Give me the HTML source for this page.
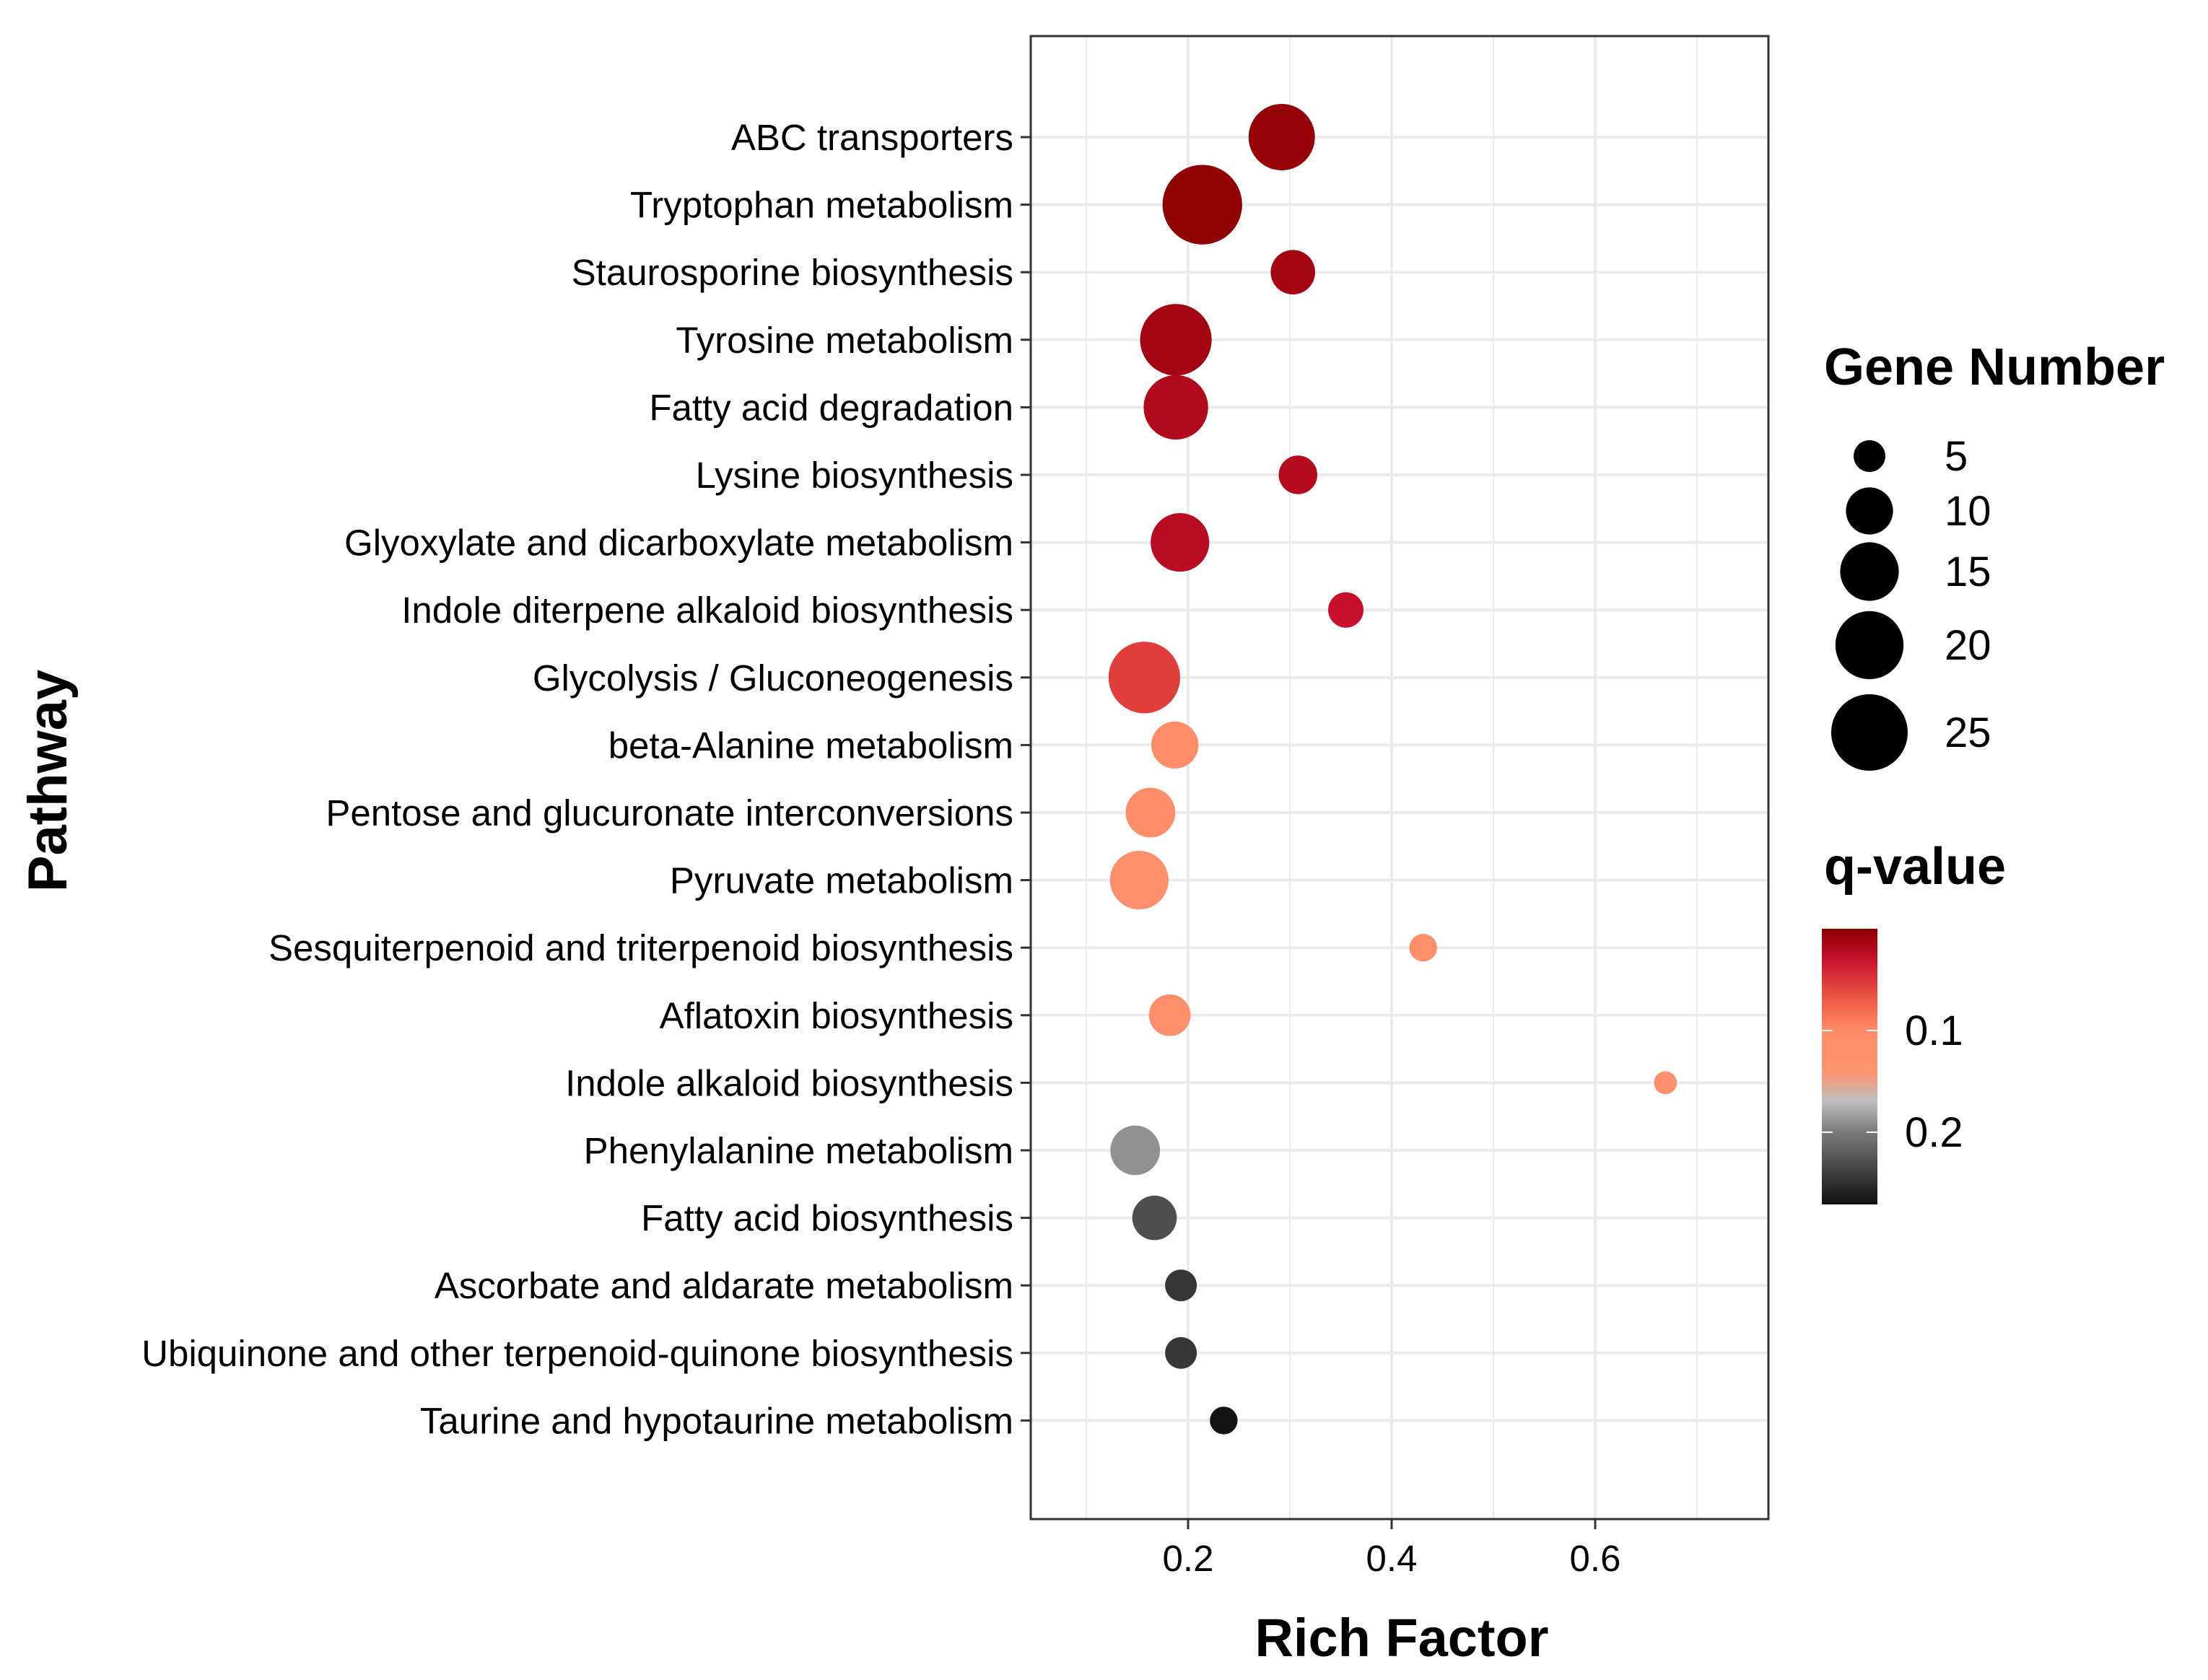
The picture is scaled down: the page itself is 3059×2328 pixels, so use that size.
<!DOCTYPE html>
<html><head><meta charset="utf-8"><style>
html,body{margin:0;padding:0;background:#fff;}
svg{display:block;font-family:"Liberation Sans",Arial,sans-serif;}
</style></head><body>
<svg id="chart" width="3059" height="2328" viewBox="0 0 3059 2328" xmlns="http://www.w3.org/2000/svg">
<rect x="0" y="0" width="3059" height="2328" fill="#fff"/>
<g id="grid"></g>
<g id="points"></g>
<rect x="1428" y="50" width="1022" height="2055" fill="none" stroke="#333" stroke-width="3"/>
<g id="yaxis"></g>
<g id="xaxis"></g>
<text x="1942" y="2295" font-size="74" font-weight="bold" text-anchor="middle">Rich Factor</text>
<text transform="translate(92,1082) rotate(-90)" font-size="76" font-weight="bold" text-anchor="middle">Pathway</text>
<g>
<text x="2527" y="533" font-size="72" font-weight="bold">Gene Number</text>
<g id="sizeleg"></g>
</g>
<g>
<text x="2527" y="1225" font-size="72" font-weight="bold">q-value</text>
<defs><linearGradient id="cg" x1="0" y1="0" x2="0" y2="1"></linearGradient></defs>
<rect x="2524" y="1287" width="77" height="382" fill="url(#cg)"/>
<g id="colorleg"></g>
</g>
</svg>
<script>
const pathways=["ABC transporters","Tryptophan metabolism","Staurosporine biosynthesis","Tyrosine metabolism","Fatty acid degradation","Lysine biosynthesis","Glyoxylate and dicarboxylate metabolism","Indole diterpene alkaloid biosynthesis","Glycolysis / Gluconeogenesis","beta-Alanine metabolism","Pentose and glucuronate interconversions","Pyruvate metabolism","Sesquiterpenoid and triterpenoid biosynthesis","Aflatoxin biosynthesis","Indole alkaloid biosynthesis","Phenylalanine metabolism","Fatty acid biosynthesis","Ascorbate and aldarate metabolism","Ubiquinone and other terpenoid-quinone biosynthesis","Taurine and hypotaurine metabolism"];
const richFactor=[0.292,0.214,0.303,0.188,0.188,0.308,0.192,0.355,0.157,0.187,0.163,0.152,0.431,0.182,0.669,0.148,0.167,0.193,0.193,0.235];
const geneNumber=[19,27,9,22,18,7,15,6,22,10,11,15,4,8,3,11,9,5,5,4];
const qValue=[0.005,0.003,0.012,0.012,0.018,0.02,0.022,0.03,0.055,0.1,0.105,0.11,0.11,0.11,0.12,0.19,0.23,0.245,0.245,0.27];
const xTicks=[0.2,0.4,0.6];
const xMinor=[0.1,0.3,0.5,0.7];
const sizeBreaks=[5,10,15,20,25];
const qBreaks=[0.1,0.2];

const NS="http://www.w3.org/2000/svg";
function mk(tag,attrs,parent){const e=document.createElementNS(NS,tag);for(const k in attrs)e.setAttribute(k,attrs[k]);parent.appendChild(e);return e;}
const xScale=v=>1646+(v-0.2)*1410;
const yScale=i=>190+i*93.6;
const rScale=n=>Math.sqrt(Math.max(0,-97+116.25*n));
const qMin=0,qMax=0.271;
const cbY=q=>1287+(q-qMin)/(qMax-qMin)*382;
const stops=[[0,"#8b0000"],[0.03,"#c8102e"],[0.07,"#ee5a45"],[0.1,"#ff8c69"],[0.14,"#ff9470"],[0.17,"#bebebe"],[0.2,"#7a7a7a"],[0.271,"#111111"]];
function hex(c){return [1,3,5].map(i=>parseInt(c.substr(i,2),16));}
function color(q){for(let i=0;i<stops.length-1;i++){const[a,ca]=stops[i],[b,cb]=stops[i+1];if(q<=b||i==stops.length-2){const t=Math.max(0,Math.min(1,(q-a)/(b-a)));const A=hex(ca),B=hex(cb);return "rgb("+A.map((v,j)=>Math.round(v+(B[j]-v)*t)).join(",")+")";}}}
const grid=document.getElementById("grid");
xMinor.forEach(v=>{const l=mk("line",{x1:xScale(v),x2:xScale(v),y1:50,y2:2105,stroke:"#ebebeb","stroke-width":2},grid);

});
xTicks.forEach(v=>{const l=mk("line",{x1:xScale(v),x2:xScale(v),y1:50,y2:2105,stroke:"#ebebeb","stroke-width":4},grid);

});
pathways.forEach((p,i)=>{const l=mk("line",{x1:1428,x2:2450,y1:yScale(i),y2:yScale(i),stroke:"#ebebeb","stroke-width":4},grid);

});
const pts=document.getElementById("points");
pathways.forEach((p,i)=>{const c=mk("circle",{cx:xScale(richFactor[i]),cy:yScale(i),r:rScale(geneNumber[i]),fill:color(qValue[i])},pts);

});
const ya=document.getElementById("yaxis");
pathways.forEach((p,i)=>{const t=mk("text",{x:1404,y:yScale(i)+18,"font-size":51,"text-anchor":"end",fill:"#000"},ya);t.textContent=p;


const k=mk("line",{x1:1414,x2:1428,y1:yScale(i),y2:yScale(i),stroke:"#333","stroke-width":3},ya);

});
const xa=document.getElementById("xaxis");
xTicks.forEach(v=>{const k=mk("line",{x1:xScale(v),x2:xScale(v),y1:2105,y2:2119,stroke:"#333","stroke-width":3},xa);


const t=mk("text",{x:xScale(v),y:2177,"font-size":51,"text-anchor":"middle"},xa);t.textContent=v.toFixed(1);

});
const sl=document.getElementById("sizeleg");
const legY=[632,708,792,894,1015];
sizeBreaks.forEach((n,i)=>{const c=mk("circle",{cx:2590,cy:legY[i],r:rScale(n),fill:"#000"},sl);


const t=mk("text",{x:2694,y:legY[i]+20,"font-size":58},sl);t.textContent=n;

});
const g=document.getElementById("cg");
stops.forEach(s=>mk("stop",{offset:(s[0]-qMin)/(qMax-qMin),"stop-color":s[1]},g));
const cl=document.getElementById("colorleg");
qBreaks.forEach(q=>{const y=cbY(q);
mk("line",{x1:2524,x2:2539,y1:y,y2:y,stroke:"#fff","stroke-width":2},cl);
mk("line",{x1:2586,x2:2601,y1:y,y2:y,stroke:"#fff","stroke-width":2},cl);
const t=mk("text",{x:2639,y:y+20,"font-size":58},cl);t.textContent=q.toFixed(1);

});
</script>
</body></html>
